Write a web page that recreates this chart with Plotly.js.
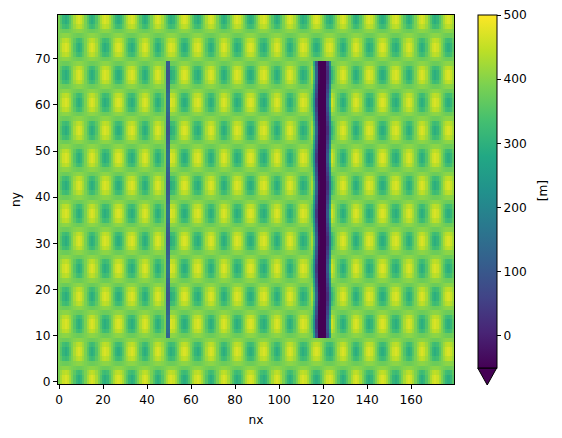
<!DOCTYPE html>
<html><head><meta charset="utf-8">
<script src="https://cdn.plot.ly/plotly-3.0.1.min.js"></script>
<style>html,body{margin:0;padding:0;background:#fff}</style></head>
<body><div id="chart" style="width:562px;height:438px"></div>
<script>
// One repeating 12x12 block (rows ny%12, columns nx%12), in metres
const tile = [
 [390,428,458,470,458,428,390,350,310,295,310,350],
 [390,428,458,470,458,428,390,350,310,295,310,350],
 [390,417,439,447,439,417,390,361,332,322,332,361],
 [390,398,404,406,404,398,390,382,376,374,376,382],
 [390,382,376,374,376,382,390,398,404,406,404,398],
 [390,361,332,322,332,361,390,417,439,447,439,417],
 [390,350,310,295,310,350,390,428,458,470,458,428],
 [390,350,310,295,310,350,390,428,458,470,458,428],
 [390,361,332,322,332,361,390,417,439,447,439,417],
 [390,382,376,374,376,382,390,398,404,406,404,398],
 [390,398,404,406,404,398,390,382,376,374,376,382],
 [390,417,439,447,439,417,390,361,332,322,332,361]
];
// Thin ridge: columns nx 49,50 for rows ny%12
const thinWallCols = [49,50];
const thinWall = [155,155,145,125,110,100,90,90,100,110,125,145];
// Wide ridge: columns nx 116..123 for rows ny%12
const wideWallCols = [116,117,118,119,120,121,122,123];
const wideWall = [
 [230, 40,-60,-90,-90,-70,100,290],
 [230, 40,-60,-90,-90,-70,100,290],
 [245, 55,-55,-90,-90,-70, 85,265],
 [270, 75,-50,-90,-90,-65, 65,230],
 [290, 90,-45,-90,-90,-65, 50,200],
 [310,110,-40,-85,-90,-70, 35,175],
 [330,125,-35,-80,-90,-80, 20,160],
 [330,125,-35,-80,-90,-80, 20,160],
 [310,110,-40,-85,-90,-70, 35,175],
 [290, 90,-45,-90,-90,-65, 50,200],
 [270, 75,-50,-90,-90,-65, 65,230],
 [245, 55,-55,-90,-90,-70, 85,265]
];
const wallRows = [10, 69];
const nxCount = 180, nyCount = 80;
const xTicks = [0,20,40,60,80,100,120,140,160];
const yTicks = [0,10,20,30,40,50,60,70];
const cbTicks = [0,100,200,300,400,500];
const viridis = ['#440154','#482475','#414487','#355f8d','#2a788e','#21918c','#22a884','#44bf70','#7ad151','#bddf26','#fde725'];

const z = [];
for (let j = 0; j < nyCount; j++) {
  const row = [];
  for (let i = 0; i < nxCount; i++) {
    let v = tile[j % 12][i % 12];
    if (j >= wallRows[0] && j <= wallRows[1]) {
      if (thinWallCols.includes(i)) v = thinWall[j % 12];
      const k = wideWallCols.indexOf(i);
      if (k >= 0) v = wideWall[j % 12][k];
    }
    row.push(v);
  }
  z.push(row);
}
const font = {family:'"DejaVu Sans", sans-serif', size:12.2, color:'#000'};
const W = 562, H = 438, L = 57.5, R = 454.5, T = 15, B = 384;
const px = x => (x - L) / (R - L), py = y => (B - y) / (B - T);
const cbL = 478.3, cbR = 497.3, cbB = 368, tipX = 487.8, tipY = 385;
Plotly.newPlot('chart', [{
  type:'heatmap', z:z, zmin:-50, zmax:500, zsmooth:false, hoverinfo:'skip',
  colorscale: viridis.map((c,i)=>[i/10,c]),
  colorbar:{
    x:px(cbL), xanchor:'left', xpad:0, y:1, yanchor:'top', ypad:0,
    thickness:cbR-cbL, thicknessmode:'pixels', len:cbB-T, lenmode:'pixels',
    outlinewidth:1, outlinecolor:'#000', tickmode:'array', tickvals:cbTicks, ticktext:cbTicks.map(String),
    ticks:'outside', ticklen:4, tickwidth:1, tickcolor:'#000', tickfont:font
  }
}], {
  width:W, height:H, paper_bgcolor:'#fff', plot_bgcolor:'#fff', font:font, showlegend:false,
  margin:{l:L, r:W-R, t:T, b:H-B, pad:0},
  xaxis:{range:[-0.5,179.5], tickmode:'array', tickvals:xTicks, ticktext:xTicks.map(String), ticks:'outside', ticklen:4, tickwidth:1, tickcolor:'#000',
    showline:true, mirror:true, linecolor:'#000', linewidth:1, showgrid:false, zeroline:false, tickfont:font, title:{text:'nx', font:font, standoff:9}},
  yaxis:{range:[-0.5,79.5], tickmode:'array', tickvals:yTicks, ticktext:yTicks.map(String), ticks:'outside', ticklen:4, tickwidth:1, tickcolor:'#000',
    showline:true, mirror:true, linecolor:'#000', linewidth:1, showgrid:false, zeroline:false, tickfont:font, title:{text:'ny', font:font, standoff:11}},
  annotations:[{text:'[m]', xref:'paper', yref:'paper', x:px(544), y:py(191), xanchor:'center', yanchor:'middle', textangle:-90, showarrow:false, font:font}],
  shapes:[{type:'path', xref:'paper', yref:'paper', layer:'above',
    path:`M ${px(cbL)} ${py(cbB)} L ${px(tipX)} ${py(tipY)} L ${px(cbR)} ${py(cbB)} Z`,
    fillcolor:'#440154', line:{color:'#000', width:1}}]
}, {displayModeBar:false, staticPlot:true});
</script></body></html>
